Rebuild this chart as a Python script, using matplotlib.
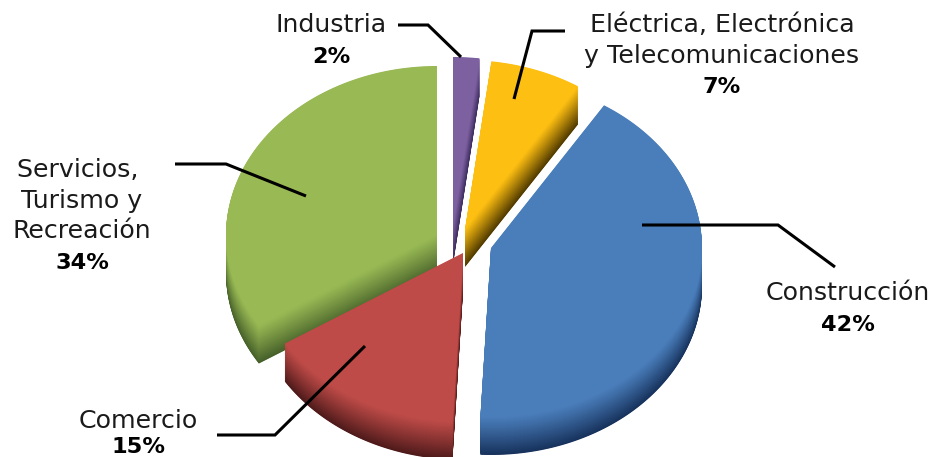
import numpy as np
import matplotlib
matplotlib.use("Agg")
import matplotlib.pyplot as plt
from matplotlib.patches import Polygon
from matplotlib.colors import to_rgb

# Data
categories = ["Industria", "Eléctrica, Electrónica\ny Telecomunicaciones", "Construcción", "Comercio", "Servicios, \nTurismo y\nRecreación"]
values = [2, 7, 41.8, 15.2, 34]

# Style
colors = ["#7D60A0", "#FDBF12", "#4A7EBB", "#BE4B48", "#98B954"]
darks = ["#3B2C5E", "#503A00", "#17325C", "#4E1A1A", "#46602A"]
centers = [(453, 226), (465, 229), (491, 248), (463, 253), (437, 235)]
RX, RY, DEPTH = 211, 169, 38
draw_order = [4, 0, 1, 2, 3]
label_pos = [(331, 32), (722, 32), (848, 300), (138, 428), (82, 177)]
leaders = [
    [(398, 25), (428, 25), (461, 57)],
    [(565, 31), (532, 31), (514, 99)],
    [(642, 225), (778, 225), (835, 267)],
    [(217, 435), (275, 435), (365, 346)],
    [(175, 164), (226, 164), (306, 196)],
]
FONT = "DejaVu Sans"
FS = 18.2
FS_BOLD = 16.2
LINE = 30.6

fig = plt.figure(figsize=(9.34, 4.57), dpi=100)
ax = fig.add_axes([0, 0, 1, 1])
ax.set_xlim(0, 934)
ax.set_ylim(457, 0)
ax.axis("off")

fractions = np.cumsum([0] + values) / sum(values)


def outline(i):
    t = np.linspace(fractions[i], fractions[i + 1], 120) * 2 * np.pi
    cx, cy = centers[i]
    xs = np.r_[cx, cx + RX * np.sin(t)]
    ys = np.r_[cy, cy - RY * np.cos(t)]
    return np.column_stack([xs, ys])


for z, i in enumerate(draw_order):
    pts = outline(i)
    base, dark = np.array(to_rgb(colors[i])), np.array(to_rgb(darks[i]))
    steps = DEPTH * 2
    for k in range(steps, 0, -1):
        f = k / steps
        c = base + (dark - base) * f ** 1.1
        ax.add_patch(Polygon(pts + [0, k / 2], closed=True, fc=c, ec="none", zorder=z * 2 + 1))
    ax.add_patch(Polygon(pts, closed=True, fc=base, ec="none", zorder=z * 2 + 2))

for path in leaders:
    p = np.array(path)
    ax.plot(p[:, 0], p[:, 1], color="black", lw=2.2, solid_capstyle="butt",
            solid_joinstyle="miter", zorder=20)

for name, v, (x, y) in zip(categories, values, label_pos):
    lines = name.split("\n")
    for j, line in enumerate(lines):
        ax.text(x, y + j * LINE, line, ha="center", va="baseline", fontsize=FS,
                family=FONT, color="#1a1a1a", zorder=21)
    ax.text(x, min(y + len(lines) * LINE, 453), f"{round(v)}%", ha="center", va="baseline",
            fontsize=FS_BOLD, family=FONT, fontweight="bold", color="black", zorder=21)

fig.savefig("out.png", dpi=100)
